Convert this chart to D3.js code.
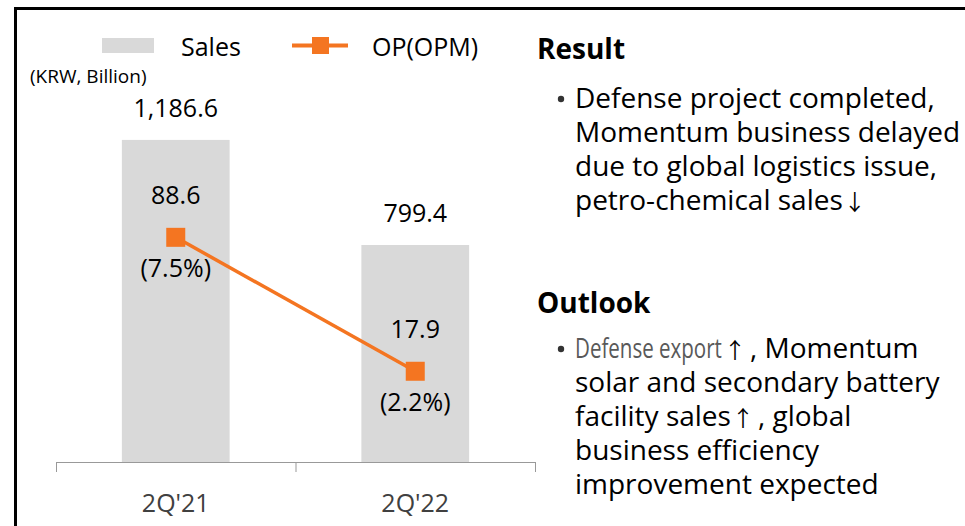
<!DOCTYPE html>
<html>
<head>
<meta charset="utf-8">
<script src="https://cdn.jsdelivr.net/npm/d3@7"></script>
<style>
  body { margin: 0; background: #fff; }
  svg { display: block; font-family: "Open Sans", sans-serif; }
  .arrow { font-family: "Noto Sans CJK KR", sans-serif; }
</style>
</head>
<body>
<div id="chart"></div>
<script>
// data
const categories = ["2Q'21", "2Q'22"];
const sales = [1186.6, 799.4];
const salesLabels = ["1,186.6", "799.4"];
const op = [88.6, 17.9];
const opm = [7.5, 2.2];

// right side text, one entry per line, split into styled pieces
const resultLines = [
    [{ t: "Defense project completed," }],
    [{ t: "Momentum business delayed" }],
    [{ t: "due to global logistics issue," }],
    [{ t: "petro-chemical sales" }, { t: "↓", c: "arrow" }]
];
const outlookLines = [
    [{ t: "Defense export", c: "narrow" }, { t: "↑", c: "arrow" }, { t: ", Momentum" }],
    [{ t: "solar and secondary battery" }],
    [{ t: "facility sales" }, { t: "↑", c: "arrow" }, { t: ", global" }],
    [{ t: "business efficiency" }],
    [{ t: "improvement expected" }]
];

const width = 965, height = 526;
const orange = "#F47521";

const svg = d3.select('#chart').append('svg')
    .attr('width', width)
    .attr('height', height);

// frame (top and left edges only visible)
svg.append('line').attr('x1', 14).attr('x2', width).attr('y1', 8.5).attr('y2', 8.5)
    .attr('stroke', '#000').attr('stroke-width', 3);
svg.append('line').attr('x1', 15.5).attr('x2', 15.5).attr('y1', 7).attr('y2', height)
    .attr('stroke', '#000').attr('stroke-width', 3);

// scales
const x = d3.scaleBand().domain(categories).range([56, 535]).padding(0);
const y = d3.scaleLinear().domain([0, 1400]).range([462, 82]);
const y2 = d3.scaleLinear().domain([-30, 150]).range([462, 121]);
const barW = x.bandwidth() * 0.45;
const cx = d => x(d) + x.bandwidth() / 2;

// bars
svg.selectAll('.bar').data(categories).enter().append('rect')
    .attr('class', 'bar')
    .attr('x', d => cx(d) - barW / 2)
    .attr('width', barW)
    .attr('y', (d, i) => y(sales[i]))
    .attr('height', (d, i) => y(0) - y(sales[i]))
    .attr('fill', '#D9D9D9');

// x axis: baseline with ticks at band edges
const axis = svg.append('g');
axis.append('line')
    .attr('x1', x.range()[0]).attr('x2', x.range()[1])
    .attr('y1', y(0) + 0.5).attr('y2', y(0) + 0.5)
    .attr('stroke', '#999').attr('stroke-width', 1);
const edges = categories.map(d => x(d)).concat([x.range()[1]]);
axis.selectAll('.tick').data(edges).enter().append('line')
    .attr('x1', d => d + 0.5).attr('x2', d => d + 0.5)
    .attr('y1', y(0)).attr('y2', y(0) + 10)
    .attr('stroke', '#999').attr('stroke-width', 1);
axis.selectAll('.cat').data(categories).enter().append('text')
    .attr('x', d => cx(d))
    .attr('y', 512)
    .attr('text-anchor', 'middle')
    .style('font-size', '25px')
    .style('fill', '#404040')
    .text(d => d);

// sales labels
svg.selectAll('.sl').data(categories).enter().append('text')
    .attr('x', d => cx(d))
    .attr('y', (d, i) => y(sales[i]) - 23)
    .attr('text-anchor', 'middle')
    .style('font-size', '25px')
    .style('fill', '#000')
    .text((d, i) => salesLabels[i]);

// OP line
const line = d3.line()
    .x((d, i) => cx(categories[i]))
    .y(d => y2(d));
svg.append('path')
    .datum(op)
    .attr('d', line)
    .attr('fill', 'none')
    .attr('stroke', orange)
    .attr('stroke-width', 3.5);

const mk = 19;
svg.selectAll('.mk').data(op).enter().append('rect')
    .attr('x', (d, i) => cx(categories[i]) - mk / 2)
    .attr('y', d => y2(d) - mk / 2)
    .attr('width', mk).attr('height', mk)
    .attr('fill', orange);

svg.selectAll('.opl').data(op).enter().append('text')
    .attr('x', (d, i) => cx(categories[i]))
    .attr('y', d => y2(d) - 33)
    .attr('text-anchor', 'middle')
    .style('font-size', '25px')
    .text(d => d.toFixed(1));

svg.selectAll('.opm').data(opm).enter().append('text')
    .attr('x', (d, i) => cx(categories[i]))
    .attr('y', (d, i) => y2(op[i]) + 40)
    .attr('text-anchor', 'middle')
    .style('font-size', '25px')
    .text(d => `(${d.toFixed(1)}%)`);

// legend
const lg = svg.append('g');
lg.append('rect').attr('x', 102).attr('y', 38).attr('width', 52).attr('height', 15).attr('fill', '#D9D9D9');
lg.append('text').attr('x', 181).attr('y', 56).style('font-size', '25px').text('Sales');
lg.append('line').attr('x1', 292).attr('x2', 348).attr('y1', 45.5).attr('y2', 45.5)
    .attr('stroke', orange).attr('stroke-width', 4);
lg.append('rect').attr('x', 312).attr('y', 37).attr('width', 17).attr('height', 17).attr('fill', orange);
lg.append('text').attr('x', 372).attr('y', 56).style('font-size', '25px').text('OP(OPM)');

svg.append('text').attr('x', 30).attr('y', 83).style('font-size', '19px').text('(KRW, Billion)');

// right side commentary
function block(title, lines, titleY, firstY) {
    svg.append('text')
        .attr('x', 537).attr('y', titleY)
        .style('font-size', '28px').style('font-weight', 'bold')
        .text(title);
    svg.append('circle').attr('cx', 561).attr('cy', firstY - 9).attr('r', 3.2).attr('fill', '#333');
    lines.forEach((parts, i) => {
        const ly = firstY + i * 34;
        let lx = 575;
        parts.forEach(p => {
            if (p.c === 'narrow') {
                // squeezed grey run, as in the source slide
                const t = svg.append('text')
                    .style('font-size', '27px').style('fill', '#595959')
                    .text(p.t);
                const s = 147 / t.node().getComputedTextLength();
                t.attr('transform', `translate(${lx},${ly}) scale(${s},1)`);
                lx += 149;
                return;
            }
            const t = svg.append('text')
                .attr('x', lx).attr('y', ly)
                .attr('class', p.c === 'arrow' ? 'arrow' : null)
                .style('font-size', p.c === 'arrow' ? '22px' : '28px')
                .style('fill', '#000')
                .text(p.t);
            lx += t.node().getComputedTextLength() + (p.c === 'arrow' ? 4 : 1);
        });
    });
}
block('Result', resultLines, 59, 108);
block('Outlook', outlookLines, 313, 358);
</script>
</body>
</html>
